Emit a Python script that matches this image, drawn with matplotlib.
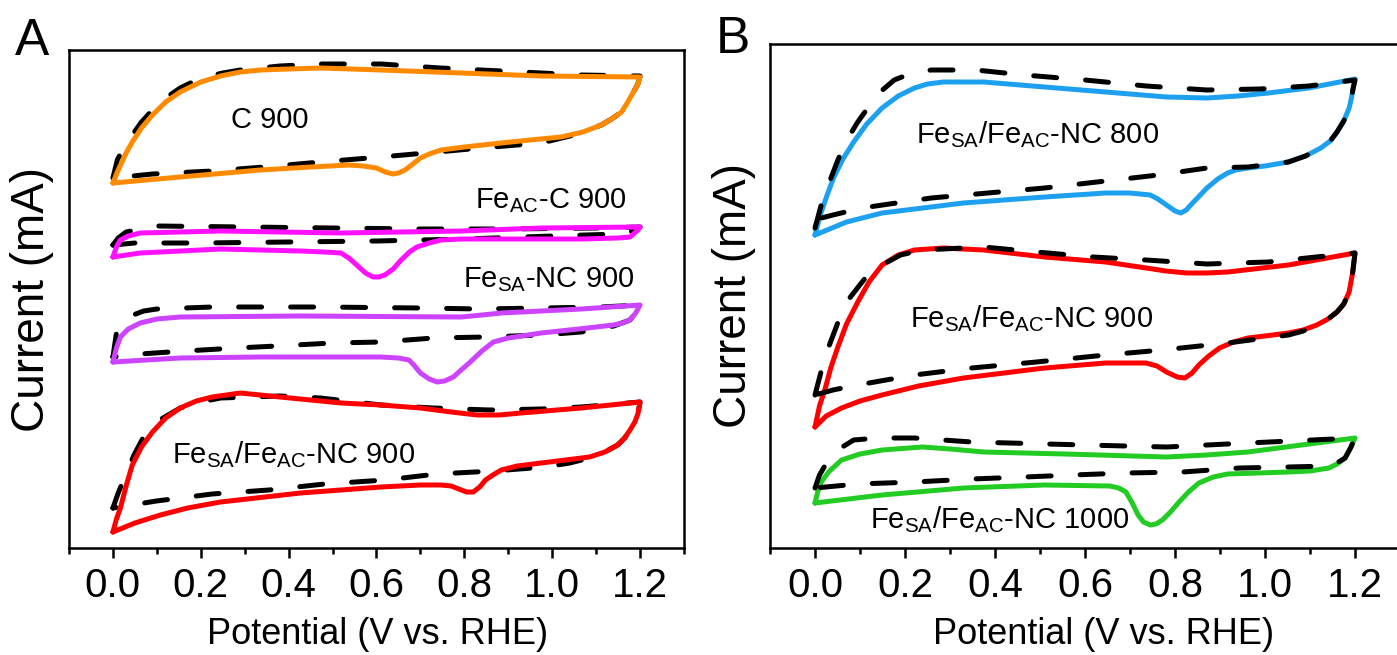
import matplotlib
matplotlib.use("Agg")
import matplotlib.pyplot as plt
from matplotlib.ticker import MultipleLocator

plt.rcParams['font.family'] = ['Liberation Sans', 'DejaVu Sans']
plt.rcParams['mathtext.fontset'] = 'custom'
plt.rcParams['mathtext.rm'] = 'Liberation Sans'
plt.rcParams['mathtext.it'] = 'Liberation Sans:italic'
plt.rcParams['mathtext.bf'] = 'Liberation Sans:bold'

# ---------------- Panel A data (potential V vs RHE, current a.u.) ----------------
c900_o2_v = [0.0, 0.01, 0.03, 0.044, 0.065, 0.09, 0.12, 0.153, 0.2, 0.245, 0.29, 0.336, 0.4, 0.473,
             0.61, 0.793, 0.975, 1.2,
             1.195, 1.185, 1.172, 1.158, 1.135, 1.112, 1.07, 1.02, 0.95, 0.884, 0.8, 0.747, 0.72,
             0.70, 0.68, 0.665, 0.65, 0.637, 0.62, 0.60, 0.57, 0.537, 0.45, 0.336, 0.153, 0.0]
c900_o2_i = [36.5, 37.6, 39.5, 40.6, 42.0, 43.3, 44.6, 45.6, 46.6, 47.2, 47.6, 47.8, 47.9, 48.0,
             47.8, 47.5, 47.2, 47.1,
             46.4, 45.6, 44.6, 43.6, 42.9, 42.3, 41.6, 41.1, 40.8, 40.5, 40.1, 39.8, 39.4,
             39.0, 38.3, 37.8, 37.5, 37.4, 37.6, 38.0, 38.2, 38.3, 38.1, 37.8, 37.1, 36.5]
c900_n2_v = [0.0, 0.01, 0.025, 0.044, 0.065, 0.09, 0.12, 0.153, 0.2, 0.25, 0.29, 0.38, 0.473,
             0.61, 0.745, 0.884, 1.066, 1.2,
             1.195, 1.185, 1.172, 1.158, 1.135, 1.112, 1.05, 0.975, 0.838, 0.738, 0.61, 0.473,
             0.345, 0.226, 0.09, 0.0]
c900_n2_i = [37.0, 38.8, 40.1, 41.3, 42.6, 43.8, 45.0, 46.0, 47.0, 47.5, 47.8, 48.2, 48.4,
             48.4, 48.0, 47.7, 47.3, 47.2,
             46.4, 45.6, 44.6, 43.6, 42.9, 42.3, 41.3, 40.5, 40.0, 39.6, 39.1, 38.6,
             38.1, 37.7, 37.4, 37.0]

feac_o2_v = [0.0, 0.008, 0.017, 0.035, 0.062, 0.245, 0.519, 0.793, 0.975, 1.2,
             1.195, 1.185, 1.177, 1.15, 1.066, 0.793, 0.747, 0.72, 0.692, 0.675, 0.656, 0.638,
             0.619, 0.605, 0.592, 0.575, 0.555, 0.537, 0.519, 0.48, 0.427, 0.245, 0.062, 0.0]
feac_o2_i = [29.1, 30.1, 30.8, 31.2, 31.5, 31.7, 31.5, 31.7, 32.0, 32.1,
             31.8, 31.4, 31.1, 31.0, 30.9, 30.9, 30.8, 30.5, 30.1, 29.6, 28.8, 27.9,
             27.3, 27.1, 27.1, 27.5, 28.3, 29.0, 29.5, 29.6, 29.7, 29.9, 29.5, 29.1]
feac_n2_v = [0.0, 0.012, 0.03, 0.1, 0.3, 0.5, 0.7, 0.9, 1.1, 1.2,
             1.185, 1.15, 1.0, 0.8, 0.6, 0.4, 0.2, 0.05, 0.0]
feac_n2_i = [30.3, 31.0, 31.6, 32.2, 32.1, 32.0, 31.9, 31.9, 32.0, 32.1,
             31.7, 31.4, 31.2, 30.9, 30.7, 30.6, 30.5, 30.5, 30.3]

fesa_o2_v = [0.0, 0.008, 0.017, 0.035, 0.062, 0.1, 0.153, 0.427, 0.793, 0.84, 0.884, 1.066, 1.2,
             1.19, 1.177, 1.16, 1.14, 1.06, 0.975, 0.9, 0.866, 0.84, 0.811, 0.79, 0.775, 0.755,
             0.738, 0.72, 0.70, 0.685, 0.674, 0.65, 0.61, 0.336, 0.153, 0.0]
fesa_o2_i = [18.6, 20.0, 21.1, 21.9, 22.5, 22.9, 23.1, 23.2, 23.1, 23.3, 23.5, 23.9, 24.3,
             23.5, 22.8, 22.5, 22.3, 21.9, 21.5, 21.0, 20.6, 19.7, 18.5, 17.7, 17.1, 16.7,
             16.6, 16.9, 17.5, 18.3, 18.8, 19.0, 19.1, 19.1, 19.0, 18.6]
fesa_n2_v = [0.0, 0.004, 0.008, 0.02, 0.04, 0.07, 0.1, 0.226, 0.473, 0.70, 0.838, 0.975, 1.112,
             1.2, 1.19, 1.177, 1.14, 1.066, 0.975, 0.848, 0.73, 0.61, 0.50, 0.373, 0.282, 0.163,
             0.062, 0.0]
fesa_n2_i = [19.1, 20.3, 21.5, 22.5, 23.2, 23.7, 23.9, 24.1, 24.1, 24.0, 23.9, 24.0, 24.1,
             24.3, 23.5, 22.8, 22.2, 21.6, 21.3, 21.1, 21.0, 20.6, 20.5, 20.2, 20.0, 19.7,
             19.4, 19.1]

a900_o2_v = [0.0, 0.008, 0.017, 0.03, 0.044, 0.065, 0.09, 0.12, 0.153, 0.19, 0.226, 0.29, 0.38,
             0.45, 0.519, 0.61, 0.70, 0.77, 0.829, 0.88, 0.929, 1.066, 1.2,
             1.195, 1.188, 1.18, 1.165, 1.149, 1.12, 1.085, 1.03, 0.975, 0.92, 0.884, 0.865,
             0.848, 0.835, 0.82, 0.805, 0.793, 0.77, 0.747, 0.70, 0.61, 0.427, 0.245, 0.17,
             0.108, 0.05, 0.0]
a900_o2_i = [1.6, 2.9, 4.0, 6.2, 8.3, 10.1, 11.6, 13.0, 14.0, 14.7, 15.1, 15.5, 15.1,
             14.8, 14.5, 14.3, 14.0, 13.6, 13.3, 13.3, 13.5, 14.0, 14.6,
             13.4, 12.6, 12.0, 11.0, 10.3, 9.6, 9.1, 8.8, 8.5, 8.2, 7.8, 7.3,
             6.8, 6.1, 5.6, 5.6, 5.8, 6.2, 6.3, 6.3, 6.1, 5.5, 4.6, 4.0,
             3.3, 2.5, 1.6]
a900_n2_v = [0.0, 0.012, 0.026, 0.048, 0.072, 0.11, 0.153, 0.2, 0.245, 0.38, 0.473, 0.61, 0.729,
             0.857, 0.975, 1.066, 1.2,
             1.195, 1.188, 1.18, 1.165, 1.149, 1.12, 1.094, 1.04, 0.984, 0.866, 0.738, 0.62,
             0.482, 0.355, 0.226, 0.099, 0.0]
a900_n2_i = [4.0, 5.5, 7.0, 9.3, 11.3, 12.9, 14.0, 14.6, 15.0, 15.2, 15.0, 14.3, 14.0,
             13.8, 13.9, 14.1, 14.6,
             13.4, 12.6, 12.0, 11.0, 10.3, 9.6, 9.1, 8.5, 8.1, 7.7, 7.4, 6.8,
             6.4, 5.8, 5.4, 4.7, 4.0]

# ---------------- Panel B data ----------------
b800_o2_v = [0.0, 0.007, 0.014, 0.027, 0.041, 0.062, 0.086, 0.115, 0.149, 0.185, 0.221, 0.25,
             0.285, 0.375, 0.51, 0.646, 0.781, 0.871, 0.94, 1.007, 1.097, 1.2,
             1.196, 1.192, 1.187, 1.175, 1.16, 1.145, 1.124, 1.09, 1.052, 1.0, 0.962, 0.935,
             0.917, 0.895, 0.871, 0.852, 0.835, 0.825, 0.813, 0.8, 0.781, 0.762, 0.745, 0.7,
             0.646, 0.51, 0.33, 0.149, 0.07, 0.0]
b800_o2_i = [31.3, 32.5, 33.6, 35.3, 37.0, 38.9, 40.6, 42.4, 44.0, 45.2, 46.0, 46.4,
             46.6, 46.6, 46.1, 45.6, 45.1, 45.0, 45.2, 45.5, 46.0, 46.9,
             46.0, 45.0, 44.0, 42.7, 41.6, 40.7, 40.0, 39.2, 38.6, 38.2, 38.0, 37.8,
             37.5, 36.9, 36.0, 35.1, 34.3, 33.8, 33.5, 33.7, 34.3, 34.9, 35.3, 35.5,
             35.5, 35.1, 34.5, 33.5, 32.6, 31.3]
b800_n2_v = [0.0, 0.015, 0.032, 0.05, 0.068, 0.095, 0.122, 0.15, 0.176, 0.21, 0.258, 0.357,
             0.465, 0.60, 0.736, 0.871, 0.989, 1.097, 1.2,
             1.196, 1.192, 1.187, 1.175, 1.16, 1.145, 1.124, 1.09, 1.052, 0.962, 0.871, 0.763,
             0.646, 0.51, 0.384, 0.258, 0.104, 0.04, 0.014, 0.0]
b800_n2_i = [32.0, 34.5, 36.6, 38.7, 40.6, 42.6, 44.3, 45.8, 46.8, 47.4, 47.8, 47.8,
             47.3, 46.8, 46.2, 45.8, 45.9, 46.2, 46.8,
             46.0, 45.0, 44.0, 42.7, 41.6, 40.7, 40.0, 39.2, 38.6, 38.1, 38.0, 37.3,
             36.7, 36.0, 35.5, 35.0, 34.0, 33.3, 33.0, 32.0]

b900_o2_v = [0.0, 0.01, 0.023, 0.035, 0.05, 0.07, 0.095, 0.12, 0.149, 0.185, 0.221, 0.285, 0.375,
             0.51, 0.646, 0.736, 0.78, 0.826, 0.87, 0.917, 1.052, 1.2,
             1.195, 1.187, 1.175, 1.16, 1.14, 1.115, 1.085, 1.052, 1.0, 0.962, 0.93, 0.899,
             0.875, 0.853, 0.838, 0.822, 0.805, 0.781, 0.76, 0.736, 0.646, 0.51, 0.33, 0.23,
             0.149, 0.1, 0.059, 0.025, 0.0]
b900_o2_i = [12.1, 14.2, 16.0, 18.0, 20.0, 22.4, 24.6, 26.6, 28.3, 29.3, 29.8, 30.0, 29.8,
             29.1, 28.6, 28.0, 27.7, 27.5, 27.5, 27.6, 28.3, 29.5,
             27.6, 25.6, 24.4, 23.6, 22.9, 22.3, 21.8, 21.5, 21.2, 21.0, 20.6, 20.0,
             19.2, 18.3, 17.5, 17.0, 17.1, 17.6, 18.2, 18.5, 18.5, 18.0, 17.0, 16.2,
             15.3, 14.7, 14.0, 13.2, 12.1]
b900_n2_v = [0.0, 0.015, 0.032, 0.053, 0.077, 0.11, 0.149, 0.19, 0.239, 0.375, 0.492, 0.618,
             0.736, 0.871, 1.007, 1.2,
             1.195, 1.187, 1.175, 1.16, 1.14, 1.115, 1.085, 1.052, 0.917, 0.772, 0.646, 0.492,
             0.348, 0.221, 0.095, 0.04, 0.0]
b900_n2_i = [15.3, 17.9, 20.3, 22.8, 25.0, 26.9, 28.3, 29.3, 29.8, 30.1, 29.6, 29.1,
             28.8, 28.4, 28.6, 29.5,
             27.6, 25.6, 24.4, 23.6, 22.9, 22.3, 21.7, 21.3, 20.5, 19.8, 19.3, 18.6,
             18.0, 17.3, 16.3, 15.8, 15.3]

b1000_o2_v = [0.0, 0.006, 0.014, 0.03, 0.059, 0.1, 0.149, 0.239, 0.3, 0.375, 0.555, 0.781, 0.87,
              0.962, 1.2,
              1.19, 1.178, 1.16, 1.142, 1.1, 1.052, 0.917, 0.885, 0.853, 0.83, 0.809, 0.79,
              0.772, 0.758, 0.745, 0.73, 0.718, 0.705, 0.691, 0.675, 0.655, 0.51, 0.33, 0.149,
              0.0]
b1000_o2_i = [4.5, 5.6, 6.6, 7.6, 8.8, 9.4, 9.8, 10.1, 9.9, 9.6, 9.4, 9.1, 9.3,
              9.6, 11.0,
              10.0, 9.0, 8.4, 8.0, 7.7, 7.6, 7.4, 7.1, 6.5, 5.6, 4.6, 3.6,
              2.8, 2.4, 2.3, 2.6, 3.3, 4.5, 5.6, 6.0, 6.2, 6.3, 6.0, 5.3,
              4.5]
b1000_n2_v = [0.0, 0.01, 0.023, 0.05, 0.086, 0.14, 0.221, 0.348, 0.60, 0.781, 0.962, 1.2,
              1.19, 1.178, 1.16, 1.142, 1.052, 0.944, 0.817, 0.691, 0.573, 0.465, 0.348, 0.221,
              0.095, 0.0]
b1000_n2_i = [6.0, 7.3, 8.3, 9.8, 10.8, 11.0, 11.0, 10.6, 10.3, 10.1, 10.5, 11.0,
              10.0, 9.0, 8.5, 8.2, 8.1, 8.0, 7.6, 7.5, 7.3, 7.1, 6.9, 6.6,
              6.4, 6.0]

x_ticks = [0.0, 0.2, 0.4, 0.6, 0.8, 1.0, 1.2]
x_ticklabels = ['0.0', '0.2', '0.4', '0.6', '0.8', '1.0', '1.2']

label_c900 = 'C 900'
label_feac = r'Fe$_{\mathrm{AC}}$-C 900'
label_fesa = r'Fe$_{\mathrm{SA}}$-NC 900'
label_900 = r'Fe$_{\mathrm{SA}}$/Fe$_{\mathrm{AC}}$-NC 900'
label_800 = r'Fe$_{\mathrm{SA}}$/Fe$_{\mathrm{AC}}$-NC 800'
label_1000 = r'Fe$_{\mathrm{SA}}$/Fe$_{\mathrm{AC}}$-NC 1000'

# ---------------- styling ----------------
LW = 3.6
DASH = (4.6, 5.8)


def style_axes(ax):
    ax.set_xlim(-0.1, 1.3)
    ax.set_xticks(x_ticks)
    ax.set_xticklabels(x_ticklabels)
    ax.xaxis.set_minor_locator(MultipleLocator(0.1))
    ax.set_yticks([])
    for s in ax.spines.values():
        s.set_linewidth(1.8)
    ax.tick_params(axis='x', which='major', direction='out', length=7.5, width=1.8,
                   labelsize=29, pad=6, top=False)
    ax.tick_params(axis='x', which='minor', direction='out', length=4.5, width=1.8, top=False)
    ax.set_xlabel('Potential (V vs. RHE)', fontsize=26)
    ax.set_ylabel('Current (mA)', fontsize=33)


def draw(ax, v, i, color, dashed=False, z=2):
    if dashed:
        ax.plot(v, i, color='black', lw=LW, dashes=DASH, dash_capstyle='round',
                dash_joinstyle='round', zorder=z)
    else:
        ax.plot(v, i, color=color, lw=LW, solid_joinstyle='round',
                solid_capstyle='round', zorder=z)


fig = plt.figure(figsize=(13.97, 6.55), dpi=100)

axA = fig.add_axes([69 / 1397, 1 - 548 / 655, 615 / 1397, 498 / 655])
axB = fig.add_axes([770 / 1397, 1 - 548 / 655, 630 / 1397, 504 / 655])

# Panel A
for (vo, io, vn, ino, col) in [
        (c900_o2_v, c900_o2_i, c900_n2_v, c900_n2_i, '#FF8A00'),
        (feac_o2_v, feac_o2_i, feac_n2_v, feac_n2_i, '#FF11FF'),
        (fesa_o2_v, fesa_o2_i, fesa_n2_v, fesa_n2_i, '#CC44FF'),
        (a900_o2_v, a900_o2_i, a900_n2_v, a900_n2_i, '#FF0000')]:
    draw(axA, vn, ino, 'black', dashed=True, z=2)
    draw(axA, vo, io, col, z=3)
axA.set_ylim(0, 49.8)
style_axes(axA)
axA.yaxis.set_label_coords(-0.025, 0.5)
axA.xaxis.set_label_coords(0.502, -0.138)

tk = dict(fontsize=21, ha='center', va='baseline')
axA.text(0.357, 42.0, label_c900, **tk)
axA.text(0.997, 34.0, label_feac, **tk)
axA.text(0.993, 26.1, label_fesa, **tk)
axA.text(0.41, 8.5, label_900, **tk)

# Panel B
for (vo, io, vn, ino, col) in [
        (b800_o2_v, b800_o2_i, b800_n2_v, b800_n2_i, '#1EA0F0'),
        (b900_o2_v, b900_o2_i, b900_n2_v, b900_n2_i, '#FF0000'),
        (b1000_o2_v, b1000_o2_i, b1000_n2_v, b1000_n2_i, '#22CC22')]:
    draw(axB, vo, io, col, z=2)
    draw(axB, vn, ino, 'black', dashed=True, z=3)
axB.set_ylim(0, 50.4)
style_axes(axB)
axB.yaxis.set_label_coords(-0.022, 0.5)
axB.xaxis.set_label_coords(0.529, -0.137)

axB.text(0.494, 40.5, label_800, **tk)
axB.text(0.481, 22.1, label_900, **tk)
axB.text(0.411, 2.0, label_1000, **tk)

fig.text(0.011, 1 - 55 / 655, 'A', fontsize=37, ha='left', va='baseline')
fig.text(0.5125, 1 - 53 / 655, 'B', fontsize=37, ha='left', va='baseline')

fig.savefig('out.png', dpi=100)
